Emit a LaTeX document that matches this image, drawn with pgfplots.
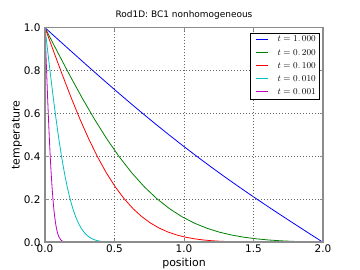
\documentclass[border=0pt]{standalone}
\usepackage{fontspec}
\setmainfont{DejaVu Sans}
\usepackage{pgfplots}
\pgfplotsset{compat=1.18}
\definecolor{mplblue}{rgb}{0,0,1}
\definecolor{mplgreen}{rgb}{0,0.5,0}
\definecolor{mplred}{rgb}{1,0,0}
\definecolor{mplcyan}{rgb}{0,0.75,0.75}
\definecolor{mplmag}{rgb}{0.75,0,0.75}
\begin{document}
\begin{tikzpicture}
\path[use as bounding box] (0,0) rectangle (360bp,270bp);
\begin{axis}[
  at={(45bp,27.7bp)}, anchor=south west,
  scale only axis, width=278bp, height=214.6bp,
  xmin=0, xmax=2, ymin=0, ymax=1,
  xtick={0,0.5,1,1.5,2}, ytick={0,0.2,0.4,0.6,0.8,1},
  /pgf/number format/assume math mode=true,
  /pgf/number format/.cd, fixed, fixed zerofill, precision=1, /pgfplots/.cd,
  tick label style={font=\fontsize{10.5}{12}\selectfont, text=black},
  xticklabel style={anchor=base, yshift=-10.6bp},
  yticklabel style={anchor=east, xshift=-1bp},
  grid=major,
  major grid style={black!60, line width=0.5bp, dash pattern=on 1bp off 2bp},
  axis line style={black!45, line width=1.6bp},
  tick style={black!45, line width=0.8bp},
  tick align=inside, major tick length=3.5bp,
  axis on top,
  title={Rod1D: BC1 nonhomogeneous},
  title style={font=\fontsize{9}{10}\selectfont, at={(axis description cs:0.5,1)}, anchor=base, yshift=3.8bp},
  xlabel={position},
  xlabel style={font=\fontsize{11}{13}\selectfont, at={(axis description cs:0.5,0)}, anchor=base, yshift=-24bp},
  ylabel={temperature},
  ylabel style={font=\fontsize{11}{13}\selectfont, at={(axis description cs:-0.091,0.5)}, anchor=base, rotate=0},
  legend style={at={(rel axis cs:0.989,0.9754)}, anchor=north east, draw=black, line width=0.6bp,
    font=\fontsize{8.6}{10}\selectfont, row sep=1.85bp, inner xsep=1.9bp, inner ysep=0.95bp},
  legend cell align=left,
  legend image code/.code={\draw[#1, line width=1.1bp] (3.2bp,0.6bp) -- (15.2bp,0.6bp);
    \path (0bp,0.6bp) (22.5bp,0.6bp);},
]
\addplot[mplblue, line width=0.8bp] coordinates {
(0,1) (0.1,0.94155) (0.2,0.88332) (0.3,0.82549) (0.4,0.76826) (0.5,0.71182)
(0.6,0.65632) (0.7,0.60189) (0.8,0.54865) (0.9,0.49667) (1.0,0.44601)
(1.1,0.39667) (1.2,0.34865) (1.3,0.30189) (1.4,0.25632) (1.5,0.21182)
(1.6,0.16826) (1.7,0.12549) (1.8,0.08332) (1.9,0.04155) (2.0,0)};
\addlegendentry{$t=1.\,000$}
\addplot[mplgreen, line width=0.8bp] coordinates {
(0,1) (0.0894,0.8875) (0.1789,0.7773) (0.2683,0.6714) (0.3578,0.5716) (0.4472,0.4795)
(0.5367,0.3961) (0.6261,0.3222) (0.7155,0.2579) (0.8050,0.2031) (0.8944,0.1573)
(0.9839,0.1198) (1.0733,0.0897) (1.1628,0.0660) (1.2522,0.0477) (1.3416,0.0339)
(1.4311,0.0237) (1.5205,0.0162) (1.6100,0.0107) (1.6994,0.0069) (1.7889,0.0042)
(1.8783,0.0021) (2.0,0)};
\addlegendentry{$t=0.\,200$}
\addplot[mplred, line width=0.8bp] coordinates {
(0,1) (0.0632,0.8875) (0.1265,0.7773) (0.1897,0.6714) (0.2530,0.5716) (0.3162,0.4795)
(0.3795,0.3961) (0.4427,0.3222) (0.5060,0.2579) (0.5692,0.2031) (0.6325,0.1573)
(0.6957,0.1198) (0.7590,0.0897) (0.8222,0.0660) (0.8854,0.0477) (0.9487,0.0339)
(1.0119,0.0237) (1.0752,0.0162) (1.1384,0.0109) (1.2017,0.0072) (1.2649,0.0047)
(1.3914,0.0019) (1.5179,0.0007) (1.6444,0.0002) (1.8,0) (2.0,0)};
\addlegendentry{$t=0.\,100$}
\addplot[mplcyan, line width=0.8bp] coordinates {
(0,1) (0.02,0.8875) (0.04,0.7773) (0.06,0.6714) (0.08,0.5716) (0.10,0.4795)
(0.12,0.3961) (0.14,0.3222) (0.16,0.2579) (0.18,0.2031) (0.20,0.1573)
(0.22,0.1198) (0.24,0.0897) (0.26,0.0660) (0.28,0.0477) (0.30,0.0339)
(0.32,0.0237) (0.34,0.0162) (0.36,0.0109) (0.38,0.0072) (0.40,0.0047)
(0.44,0.0019) (0.48,0.0007) (0.52,0.0002) (0.6,0) (2.0,0)};
\addlegendentry{$t=0.\,010$}
\addplot[mplmag, line width=0.8bp] coordinates {
(0,1) (0.00632,0.8875) (0.01265,0.7773) (0.01897,0.6714) (0.0253,0.5716) (0.03162,0.4795)
(0.03795,0.3961) (0.04427,0.3222) (0.0506,0.2579) (0.05692,0.2031) (0.06325,0.1573)
(0.06957,0.1198) (0.0759,0.0897) (0.08222,0.0660) (0.08854,0.0477) (0.09487,0.0339)
(0.10119,0.0237) (0.1138,0.0109) (0.1265,0.0047) (0.1518,0.0007) (0.18,0) (2.0,0)};
\addlegendentry{$t=0.\,001$}
\end{axis}
\end{tikzpicture}
\end{document}
